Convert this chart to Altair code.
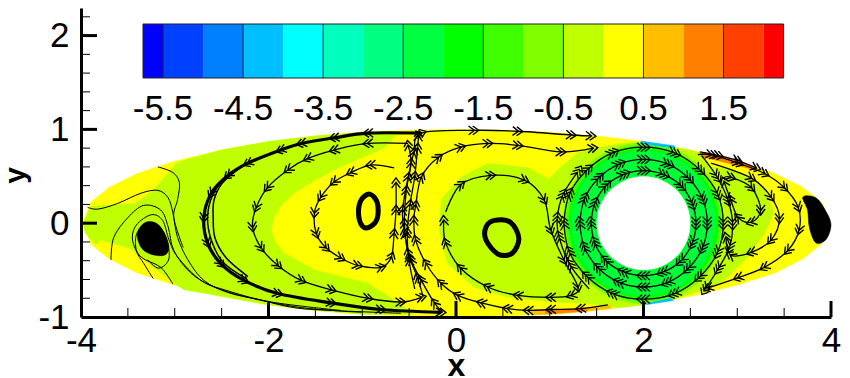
import math
import altair as alt
import pandas as pd

# ---- colour bar ----
BAR_EDGES = [-5.75, -5.5, -5, -4.5, -4, -3.5, -3, -2.5, -2, -1.5, -1, -0.5, 0, 0.5, 1, 1.5, 2, 2.25]
BAR_COLORS = ["#0000ff", "#0040ff", "#0080ff", "#00bfff", "#00ffff", "#00ffbf", "#00ff80", "#00ff40",
              "#00ff00", "#40ff00", "#80ff00", "#bfff00", "#ffff00", "#ffbf00", "#ff8000", "#ff4000", "#ff0000"]
BAR_LABELS = [-5.5, -4.5, -3.5, -2.5, -1.5, -0.5, 0.5, 1.5]
BAR_LABEL_TEXT = ["-5.5", "-4.5", "-3.5", "-2.5", "-1.5", "-0.5", "0.5", "1.5"]

# ---- contour regions ----
ELLIPSE = [(-3.98,0),(-3.9,.22),(-3.7,.38),(-3.4,.53),(-3,.66),(-2.5,.78),(-2,.87),(-1.5,.93),(-1,.97),(-.5,.99),
           (0,1),(.5,.99),(1,.97),(1.5,.93),(2,.87),(2.5,.78),(3,.66),(3.4,.53),(3.7,.38),(3.9,.22),(3.98,0),
           (3.9,-.22),(3.7,-.38),(3.4,-.53),(3,-.66),(2.5,-.78),(2,-.87),(1.5,-.93),(1,-.97),(.5,-.99),
           (0,-1),(-.5,-.99),(-1,-.97),(-1.5,-.93),(-2,-.87),(-2.5,-.78),(-3,-.66),(-3.4,-.53),(-3.7,-.38),(-3.9,-.22)]
LIME_LEFT = [(-3.98,0),(-3.89,.18),(-3.68,.19),(-3.43,.21),(-3.25,.33),(-3.11,.49),(-2.97,.65),(-2.5,.78),(-2,.87),
             (-1.5,.93),(-1,.97),(-.37,.98),(-.64,.94),(-.77,.80),(-1.05,.68),(-1.30,.57),(-1.55,.43),(-1.73,.32),(-1.88,.17),(-1.94,.06),(-1.97,-.07),
             (-1.93,-.20),(-1.83,-.32),(-1.51,-.50),(-.94,-.64),(-.66,-.82),(-.46,-.97),(-1,-.97),(-1.5,-.93),(-2,-.87),(-2.5,-.78),
             (-2.9,-.71),(-3.01,-.64),(-3.25,-.45),(-3.47,-.27),(-3.79,-.18),(-3.84,-.23),(-3.96,-.1)]
LIME_RIGHT = [(-.16,.25),(.05,.49),(.34,.64),(.77,.59),(.99,.47),(1.12,.60),(1.30,.75),(1.55,.81),(1.76,.85),(2.0,.87),
              (2.29,.82),(2.61,.75),(2.72,.60),(2.97,.57),(3.29,.35),(3.39,.11),(3.29,-.11),(3.11,-.36),(2.86,-.61),
              (2.69,-.69),(2.33,-.81),(2.0,-.87),(1.73,-.90),(1.37,-.85),(1.05,-.84),(.55,-.79),(.19,-.68),(-.09,-.43),(-.18,-.07)]
BLUE_TOP = [(1.97,.875),(2.33,.825),(2.33,.80),(1.97,.85)]
BLUE_BOT = [(2.02,-.87),(2.32,-.825),(2.29,-.80),(2.05,-.85)]
ORANGE_TOP = [(2.61,.76),(2.9,.70),(3.18,.605),(3.18,.57),(2.9,.64),(2.61,.71)]
ORANGE_BOT_A = [(.8,-.93),(1.1,-.92),(1.65,-.875),(1.65,-.91),(1.1,-.965),(.8,-.98)]
ORANGE_BOT_B = [(.95,-.94),(1.4,-.91),(1.4,-.94),(.95,-.965)]
BLOB_LEFT = [(-3.40,-.11),(-3.31,.01),(-3.17,-.02),(-3.07,-.21),(-3.09,-.33),(-3.22,-.34),(-3.35,-.27)]
BLOB_RIGHT = [(3.70,.28),(3.84,.27),(3.95,.12),(4.0,-.02),(3.95,-.17),(3.84,-.21),(3.77,-.05),(3.75,.14)]

# rings round the cylinder: radius in axis units, colour
RING_CENTER = (2, 0)
RINGS = [(.86, "#80ff00"), (.83, "#40ff00"), (.80, "#00ff00"), (.77, "#00ff38"), (.50, "#ffffff")]

# ---- streamlines with barbs ----
L1 = [(-.37,.96),(-.94,.96),(-1.30,.91),(-1.65,.85),(-1.87,.78),(-2.22,.64),(-2.43,.51),(-2.61,.32),(-2.69,.06),
      (-2.65,-.21),(-2.51,-.43),(-2.26,-.61),(-1.90,-.75),(-1.33,-.85),(-.80,-.92),(-.16,-.95)]
L2 = [(-.51,.85),(-.94,.85),(-1.30,.78),(-1.58,.69),(-1.79,.57),(-2.01,.38),(-2.13,.17),(-2.17,-.04),(-2.08,-.26),
      (-1.90,-.45),(-1.65,-.61),(-1.33,-.71),(-.94,-.80),(-.59,-.84),(-.37,-.79)]
L3 = [(-.66,.59),(-.91,.62),(-1.12,.54),(-1.30,.44),(-1.44,.28),(-1.51,.11),(-1.49,-.11),(-1.39,-.26),(-1.23,-.37),
      (-1.05,-.45),(-.80,-.47),(-.69,-.36),(-.66,-.11),(-.64,.14),(-.64,.43)]
L5A = [(-.14,-.95),(-.23,-.85),(-.37,-.61),(-.48,-.39),(-.55,-.11),(-.57,.14),(-.51,.49),(-.45,.75),(-.37,.96),
       (.19,.99),(.66,.98),(1.23,.94),(1.44,.93)]
L5B = [(-.35,-.79),(-.41,-.58),(-.51,-.32),(-.55,0),(-.53,.35),(-.48,.64),(-.51,.83)]
L5C = [(-.44,-.70),(-.50,-.40),(-.52,-.1),(-.49,.2),(-.44,.5),(-.41,.8),(-.40,.93)]
L7 = [(1.62,-.87),(1.33,-.91),(1.01,-.92),(.77,-.93),(.55,-.91),(.27,-.85),(.02,-.77),(-.16,-.64),(-.32,-.43),
      (-.43,-.18),(-.45,.03),(-.43,.19),(-.37,.49),(-.19,.70),(.05,.81),(.34,.85),(.66,.83),(1.12,.76),(1.46,.80)]
L8 = [(-.11,.12),(.05,.41),(.37,.51),(.73,.46),(.94,.25),(1.01,-.07),(1.15,-.39),(1.30,-.68),(1.23,-.77),(1.01,-.79),
      (.66,-.77),(.34,-.68),(.05,-.48),(-.11,-.21),(-.13,.03)]
RING_IN = [(1.44,0),(1.48,.21),(1.60,.40),(1.79,.52),(2,.56),(2.21,.52),(2.40,.40),(2.52,.21),(2.56,0),(2.52,-.21),
           (2.40,-.40),(2.21,-.52),(2,-.56),(1.79,-.52),(1.60,-.40),(1.48,-.21),(1.44,0)]
RING_MID = [(1.32,0),(1.37,.26),(1.52,.48),(1.74,.63),(2,.68),(2.26,.63),(2.48,.48),(2.63,.26),(2.68,0),(2.63,-.26),
            (2.48,-.48),(2.26,-.63),(2,-.68),(1.74,-.63),(1.52,-.48),(1.37,-.26),(1.32,0)]
RING_OUT = [(1.15,0),(1.21,.31),(1.40,.57),(1.67,.75),(2,.81),(2.33,.75),(2.60,.57),(2.79,.31),(2.85,0),(2.79,-.31),
            (2.60,-.57),(2.33,-.75),(2,-.81),(1.67,-.75),(1.40,-.57),(1.21,-.31),(1.15,0)]
BUNDLE_R = [(2.62,.72),(2.78,.50),(2.90,.25),(2.95,0),(2.92,-.25),(2.80,-.48),(2.66,-.70)]
BUNDLE_L = [(1.42,-.70),(1.22,-.45),(1.10,-.15),(1.08,.05),(1.14,.30),(1.30,.55)]
R0 = [(2.60,.76),(2.8,.72),(3.0,.67),(3.2,.59)]
R1 = [(2.58,.73),(2.72,.73),(3.01,.64),(3.29,.53),(3.50,.38),(3.65,.17),(3.66,-.07),(3.54,-.29),(3.29,-.47),(3.01,-.58),(2.69,-.69)]
R2 = [(2.72,.64),(3.15,.48),(3.36,.28),(3.45,.05),(3.36,-.18),(3.15,-.31),(2.93,-.34),(2.88,-.15)]
R3 = [(2.85,.48),(2.93,.49),(3.15,.38),(3.25,.14),(3.15,.01),(3.01,.06),(2.93,.25),(2.86,.44)]

# ---- streamlines without barbs ----
H1 = [(-2.29,.60),(-2.49,.43),(-2.58,.25),(-2.59,.06),(-2.57,-.16),(-2.45,-.37),(-2.22,-.57)]
H2 = [(-2.26,.62),(-2.47,.47),(-2.60,.29),(-2.65,.06),(-2.61,-.18),(-2.49,-.41),(-2.24,-.59)]
CORE_L = [(-.92,.31),(-.84,.22),(-.84,.05),(-.92,-.04),(-1.00,-.03),(-1.04,.11),(-1.01,.25)]
CORE_C = [(.41,.03),(.58,.01),(.67,-.16),(.60,-.32),(.45,-.33),(.32,-.18),(.32,-.04)]
S1 = [(-3.93,.17),(-3.82,.15),(-3.61,.21),(-3.36,.32),(-3.18,.35),(-3.07,.27),(-3.02,.11),(-2.97,-.15),(-2.86,-.39),
      (-2.69,-.61),(-2.43,-.74),(-2.08,-.82),(-1.73,-.90),(-1.33,-.93),(-.59,-.96)]
S2 = [(-3.18,.60),(-3.02,.54),(-2.95,.43),(-2.97,.25),(-3.01,.06),(-2.91,-.26)]
S3 = [(-3.68,-.39),(-3.65,-.15),(-3.50,.06),(-3.33,.19),(-3.15,.14),(-3.07,-.04),(-3.01,-.29),(-2.83,-.53),(-2.58,-.68),
      (-2.22,-.79),(-1.65,-.90),(-1.01,-.95)]
S4 = [(-3.02,-.65),(-3.15,-.47),(-3.36,-.36),(-3.45,-.18),(-3.41,-.02),(-3.25,.09),(-3.13,.03),(-3.06,-.18),(-2.97,-.36),
      (-2.72,-.61),(-2.47,-.71),(-1.97,-.84),(-1.23,-.93)]
S5 = [(-3.23,-.59),(-3.33,-.43),(-3.41,-.29),(-3.40,-.10),(-3.25,.01),(-3.11,-.11),(-3.06,-.37),(-3.17,-.48),(-3.29,-.39)]

X_MINOR = [-3.5,-3,-2.5,-1.5,-1,-.5,.5,1,1.5,2.5,3,3.5]
X_MAJOR = [-2,0,2,4]
Y_MINOR = [-.8,-.6,-.4,-.2,.2,.4,.6,.8,1.2,1.4,1.6,1.8,2.2]
Y_MAJOR = [0,1,2]

PLOT_W, PLOT_H = 750, 309
UNIT = PLOT_W / 8
FONT = "Liberation Sans"

xscale = alt.Scale(domain=[-4, 4], nice=False, zero=False)
yscale = alt.Scale(domain=[-1, 2.294], nice=False, zero=False)
xaxis = alt.Axis(values=[-4,-2,0,2,4], ticks=False, grid=False, domainWidth=3, domainColor="black",
                 labelFont=FONT, labelFontSize=35, labelColor="black", labelPadding=6, labelExpr="''+datum.value",
                 labelOverlap=False, labelBound=False, labelFlush=False, zindex=1,
                 title="x", titleFont=FONT, titleFontSize=32, titleFontWeight="bold", titleColor="black",
                 titleX=375, titleY=58, titleBaseline="alphabetic")
yaxis = alt.Axis(values=[-1,0,1,2], ticks=False, grid=False, domainWidth=3, domainColor="black",
                 labelFont=FONT, labelFontSize=35, labelColor="black", labelPadding=12, labelExpr="''+datum.value",
                 labelOverlap=False, labelBound=False, labelFlush=False, zindex=1,
                 title="y", titleFont=FONT, titleFontSize=30, titleFontWeight="bold", titleColor="black",
                 titleX=-57, titleY=167, titleBaseline="alphabetic")
X = alt.X("x:Q", scale=xscale, axis=xaxis)
Y = alt.Y("y:Q", scale=yscale, axis=yaxis)


def table(points):
    return pd.DataFrame({"x": [p[0] for p in points], "y": [p[1] for p in points], "i": range(len(points))})


def poly(points, color, shape="linear"):
    return alt.Chart(table(points)).mark_line(fill=color, stroke=color, strokeWidth=0.5, interpolate=shape).encode(
        x=X, y=Y, order=alt.Order("i:Q"))


def curve(points, width=1.2, shape="cardinal"):
    return alt.Chart(table(points)).mark_line(color="black", strokeWidth=width, interpolate=shape).encode(
        x=X, y=Y, order=alt.Order("i:Q"))


def ring(radius, color):
    size = (2 * radius * UNIT) ** 2
    return alt.Chart(pd.DataFrame({"x": [RING_CENTER[0]], "y": [RING_CENTER[1]]})).mark_circle(
        size=size, color=color, opacity=1).encode(x=X, y=Y)


def barb_marks(lines, path, size, width):
    rows = []
    for line in lines:
        for k in range(1, len(line)):
            ax, ay = line[k - 1]
            bx, by = line[min(k + 1, len(line) - 1)]
            rows.append({"x": line[k][0], "y": line[k][1],
                         "a": math.degrees(math.atan2(bx - ax, by - ay)) % 360})
    return alt.Chart(pd.DataFrame(rows)).mark_point(
        shape=path, filled=False, color="black", size=size, strokeWidth=width, opacity=1).encode(
        x=X, y=Y, angle=alt.Angle("a:Q", scale=None))


OPEN_BARBED = [L1, L2, L3, L5A, L5B, L5C, L7, L8, R0, R1, R2, R3]
RING_BARBED = [RING_IN, RING_MID, RING_OUT, BUNDLE_R, BUNDLE_L]
PLAIN = [(H1, 1.5), (H2, 1.5), (S1, 1), (S2, 1), (S3, 1), (S4, 1), (S5, 1)]
TWO_BARBS = "M-0.8,0.2L0,-0.9L0.8,0.2M-0.8,0.95L0,-0.1L0.8,0.95"
THREE_BARBS = "M-0.7,-0.2L0,-1L0.7,-0.2M-0.7,0.4L0,-0.4L0.7,0.4M-0.7,1L0,0.2L0.7,1"

layers = [poly(ELLIPSE, "#ffff00"), poly(LIME_LEFT, "#bfff00"), poly(LIME_RIGHT, "#bfff00"),
          poly(ORANGE_TOP, "#ff8000"), poly(ORANGE_BOT_A, "#ffbf00"), poly(ORANGE_BOT_B, "#ff8000")]
layers += [ring(r, c) for r, c in RINGS]
layers += [poly(BLUE_TOP, "#00bfff"), poly(BLUE_BOT, "#00bfff"),
           poly(BLOB_LEFT, "black", "cardinal-closed"), poly(BLOB_RIGHT, "black", "cardinal-closed")]
layers += [curve(L, 1.3) for L in OPEN_BARBED + RING_BARBED]
layers += [curve(p, w) for p, w in PLAIN]
layers += [curve(CORE_L, 5, "cardinal-closed"), curve(CORE_C, 5, "cardinal-closed"), curve(L1, 3.2)]
layers += [barb_marks(OPEN_BARBED, TWO_BARBS, 120, 1.4), barb_marks(RING_BARBED, THREE_BARBS, 170, 1.3)]


def xticks(values, length, width):
    return alt.Chart(pd.DataFrame({"x": values})).mark_rule(color="black", strokeWidth=width).encode(
        x=X, y=alt.value(PLOT_H), y2=alt.value(PLOT_H - length))


def yticks(values, length, width):
    return alt.Chart(pd.DataFrame({"y": values})).mark_rule(color="black", strokeWidth=width).encode(
        y=Y, x=alt.value(0), x2=alt.value(length))


layers += [xticks(X_MINOR, 9, 1), xticks(X_MAJOR, 16, 3), yticks(Y_MINOR, 9, 1), yticks(Y_MAJOR, 16, 3)]
main = alt.layer(*layers)

# colour bar, on a value scale of its own
bar_x = alt.Scale(domain=[-5.75, 2.25], range=[62, 702.6], nice=False, zero=False)
bar_df = pd.DataFrame({"lo": BAR_EDGES[:-1], "hi": BAR_EDGES[1:], "c": BAR_COLORS})
bar_rect = alt.Chart(bar_df).mark_rect(strokeWidth=0).encode(
    x=alt.X("lo:Q", scale=bar_x, axis=None), x2="hi:Q", y=alt.value(16), y2=alt.value(70),
    color=alt.Color("c:N", scale=None))
bar_frame = alt.Chart(pd.DataFrame({"lo": [-5.75], "hi": [2.25]})).mark_rect(
    fill="transparent", stroke="#222222", strokeWidth=1).encode(
    x=alt.X("lo:Q", scale=bar_x, axis=None), x2="hi:Q", y=alt.value(16), y2=alt.value(70))
bar_rules = alt.Chart(pd.DataFrame({"v": BAR_LABELS})).mark_rule(color="#222222", strokeWidth=1).encode(
    x=alt.X("v:Q", scale=bar_x, axis=None), y=alt.value(16), y2=alt.value(70))
bar_text = alt.Chart(pd.DataFrame({"v": BAR_LABELS, "t": BAR_LABEL_TEXT})).mark_text(
    font=FONT, fontSize=35, color="black", baseline="middle", align="center").encode(
    x=alt.X("v:Q", scale=bar_x, axis=None), y=alt.value(101), text="t:N")
bar = alt.layer(bar_rect, bar_rules, bar_frame, bar_text)

chart = alt.layer(main, bar).resolve_scale(x="independent").properties(
    width=PLOT_W, height=PLOT_H,
    autosize=alt.AutoSizeParams(type="none"),
    padding={"left": 73, "top": 0, "right": 11, "bottom": 59},
    background="white",
).configure_view(strokeWidth=0)

chart.save("out.html", embed_options={"renderer": "svg", "actions": False})
